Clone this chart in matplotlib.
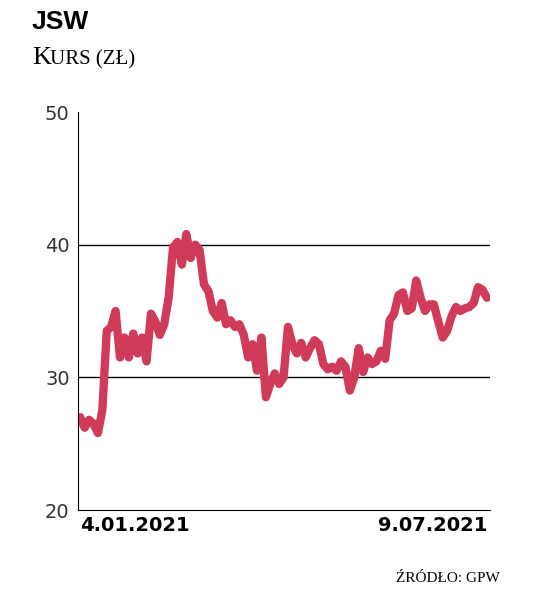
import numpy as np
import matplotlib
matplotlib.use("Agg")
import matplotlib.pyplot as plt

# JSW share price (zł), 4.01.2021 - 9.07.2021
prices = [
    27, 26.2, 26.8, 26.5, 25.8, 27.5, 33.5, 33.8, 35, 31.5, 33, 31.5, 33.3, 31.8,
    33, 31.2, 34.8, 34.2, 33.2, 34, 36, 39.8, 40.2, 38.5, 40.8, 39, 40, 39.6, 37,
    36.5, 35, 34.5, 35.6, 34, 34.3, 33.8, 34, 33.2, 31.5, 32.5, 30.5, 33, 28.5,
    29.5, 30.3, 29.5, 30, 33.8, 32.5, 31.8, 32.6, 31.5, 32.2, 32.8, 32.5, 31,
    30.6, 30.8, 30.5, 31.2, 30.8, 29, 30, 32.2, 30.4, 31.5, 31, 31.2, 32, 31.4,
    34.3, 34.8, 36.2, 36.4, 35, 35.2, 37.3, 36, 35, 35.5, 35.5, 34.2, 33, 33.5,
    34.6, 35.3, 35, 35.2, 35.3, 35.6, 36.8, 36.6, 36,
]
date_labels = ["4.01.2021", "9.07.2021"]
y_ticks = [20, 30, 40, 50]

fig = plt.figure(figsize=(5.4, 5.93), dpi=100)
ax = fig.add_axes([78 / 540, 1 - 510 / 593, 412 / 540, 398 / 593])

x = np.arange(len(prices))
ax.plot(x, prices, color="#d13b5a", lw=6, solid_joinstyle="round", solid_capstyle="round")
for yv in (30, 40):
    ax.axhline(yv, color="black", lw=1, zorder=0)

ax.set_xlim(-0.5, len(prices) - 0.3)
ax.set_ylim(20, 50)
ax.set_yticks(y_ticks)
ax.tick_params(axis="y", length=0, labelsize=14, colors="#333333", pad=6)
ax.set_xticks([0, len(prices) - 1])
ax.set_xticklabels(date_labels, fontsize=14, fontweight="bold")
ax.tick_params(axis="x", length=0, pad=4)
ax.get_xticklabels()[0].set_ha("left")
ax.get_xticklabels()[1].set_ha("right")
for s in ("top", "right"):
    ax.spines[s].set_visible(False)

fig.text(32 / 540, 1 - 22 / 593, "JSW", fontsize=19, fontweight="bold", va="center",
         fontfamily="Liberation Sans")
# small-caps look: big initial, smaller rest
t = fig.text(32 / 540, 1 - 58 / 593, "K", fontsize=19, va="center", fontfamily="Liberation Serif")
fig.text(50 / 540, 1 - 60 / 593, "URS (ZŁ)", fontsize=15, va="center", fontfamily="Liberation Serif")
fig.text(500 / 540, 1 - 579 / 593, "ŹRÓDŁO: GPW", fontsize=11, ha="right", va="center",
         fontfamily="Liberation Serif")

fig.savefig("out.png", dpi=100)
